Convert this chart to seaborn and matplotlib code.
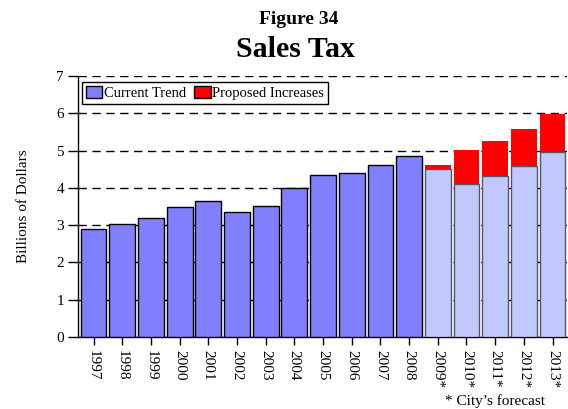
import numpy as np
import pandas as pd
import seaborn as sns
import matplotlib.pyplot as plt
from matplotlib.patches import Patch

years = ["1997", "1998", "1999", "2000", "2001", "2002", "2003", "2004", "2005",
         "2006", "2007", "2008", "2009*", "2010*", "2011*", "2012*", "2013*"]
current_trend = [2.90, 3.03, 3.19, 3.49, 3.65, 3.35, 3.51, 4.00, 4.34,
                 4.40, 4.61, 4.85, 4.52, 4.10, 4.31, 4.59, 4.95]
proposed_increase = [0, 0, 0, 0, 0, 0, 0, 0, 0,
                     0, 0, 0, 0.10, 0.91, 0.94, 0.99, 1.03]
is_forecast = [False] * 12 + [True] * 5

df = pd.DataFrame({
    "year": years,
    "base": current_trend,
    "total": np.array(current_trend) + np.array(proposed_increase),
    "kind": ["Forecast" if f else "Actual" for f in is_forecast],
})

sns.set_style("white")
plt.rcParams["font.family"] = ["Liberation Serif", "DejaVu Serif"]
plt.rcParams.update({"text.color": "black", "axes.labelcolor": "black",
                     "xtick.color": "black", "ytick.color": "black"})

fig = plt.figure(figsize=(5.68, 4.09), dpi=100)
ax = fig.add_axes([0.137, 0.176, 0.861, 0.638])

# red increases drawn first, base bars on top
sns.barplot(data=df, x="year", y="total", order=years, color="#FF0000",
            saturation=1, width=0.9, edgecolor="none", ax=ax, zorder=2)
sns.barplot(data=df, x="year", y="base", order=years, hue="kind",
            palette={"Actual": "#8080FF", "Forecast": "#C0C8FF"},
            saturation=1, width=0.9, dodge=False, edgecolor="black",
            linewidth=1, legend=False, ax=ax, zorder=3)

# forecast bar outlines are softer
for p in ax.patches:
    if abs(p.get_facecolor()[0] - 0.7529) < 0.01:
        p.set_edgecolor("#555566")

ax.set_ylim(0, 7)
ax.set_xlim(-0.55, 16.5)
ax.set_yticks(range(0, 8))
ax.yaxis.grid(True, linestyle=(0, (6, 4)), color="black", linewidth=1)
ax.set_axisbelow(True)
ax.set_xlabel("")
ax.set_ylabel("Billions of Dollars", fontsize=11, labelpad=19)
ax.tick_params(axis="x", rotation=-90, labelsize=11, length=6, width=1,
               bottom=True, direction="out", pad=3)
ax.tick_params(axis="y", labelsize=11, length=7, width=1, left=True,
               direction="out", pad=3)
for s in ["top", "right"]:
    ax.spines[s].set_visible(False)
for s in ["left", "bottom"]:
    ax.spines[s].set_color("black")
    ax.spines[s].set_linewidth(1)

handles = [Patch(facecolor="#8080FF", edgecolor="black", label="Current Trend"),
           Patch(facecolor="#FF0000", edgecolor="black", label="Proposed Increases")]
ax.legend(handles=handles, loc="upper left", bbox_to_anchor=(0.008, 0.977),
          borderaxespad=0, ncol=2, fontsize=10.5, frameon=True, fancybox=False,
          edgecolor="black", handlelength=1.1, handleheight=0.8,
          handletextpad=0.1, columnspacing=0.6, borderpad=0.3, framealpha=1)

fig.text(0.525, 0.952, "Figure 34", ha="center", va="center",
         fontsize=14, fontweight="bold")
fig.text(0.52, 0.88, "Sales Tax", ha="center", va="center",
         fontsize=21.5, fontweight="bold")
fig.text(0.96, 0.003, "* City\u2019s forecast", ha="right", va="bottom",
         fontsize=11)

fig.savefig("out.png", dpi=100)
